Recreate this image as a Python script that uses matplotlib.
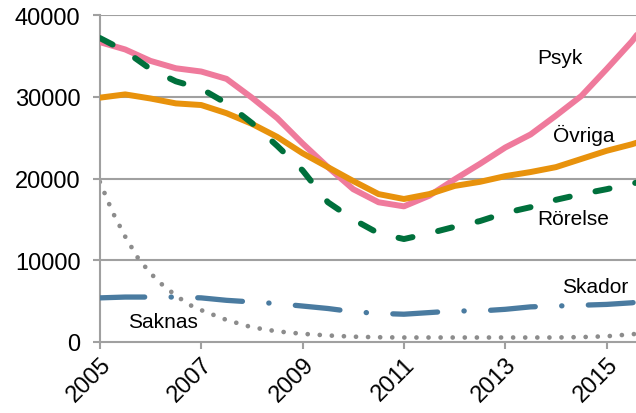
import numpy as np
import matplotlib.pyplot as plt

plt.rcParams['font.family'] = ['Liberation Sans', 'DejaVu Sans']

years = [2005.0, 2005.5, 2006.0, 2006.5, 2007.0, 2007.5, 2008.0, 2008.5, 2009.0, 2009.5,
         2010.0, 2010.5, 2011.0, 2011.5, 2012.0, 2012.5, 2013.0, 2013.5, 2014.0, 2014.5,
         2015.0, 2015.5, 2015.6]

psyk = [36700, 35800, 34400, 33500, 33100, 32200, 29900, 27400, 24300, 21400,
        18700, 17100, 16600, 17900, 19900, 21800, 23800, 25400, 27700, 30100,
        33400, 36800, 37600]
ovriga = [29900, 30300, 29800, 29200, 29000, 28000, 26700, 25100, 23100, 21400,
          19700, 18100, 17500, 18100, 19100, 19600, 20300, 20800, 21400, 22400,
          23400, 24200, 24400]
rorelse = [37200, 35600, 33400, 31900, 31000, 29200, 26800, 24000, 21000, 17100,
           15000, 13300, 12600, 13300, 14100, 14800, 15800, 16500, 17400, 18100,
           18700, 19400, 19500]
skador = [5400, 5500, 5500, 5500, 5400, 5100, 4900, 4700, 4400, 4100,
          3700, 3500, 3400, 3600, 3800, 3800, 4000, 4300, 4400, 4500,
          4600, 4800, 4900]

years_saknas = [2005.0, 2005.25, 2005.5, 2005.75, 2006.0, 2006.25, 2006.5, 2006.75,
                2007.0, 2007.5, 2008.0, 2008.5, 2009.0, 2009.5, 2010.0, 2010.5,
                2011.0, 2011.5, 2012.0, 2012.5, 2013.0, 2013.5, 2014.0, 2014.5,
                2015.0, 2015.5, 2015.6]
saknas = [19600, 15900, 12900, 10300, 8400, 6900, 5700, 4600,
          3900, 2700, 1800, 1300, 1000, 800, 650, 580,
          550, 550, 550, 550, 550, 550, 550, 600,
          700, 950, 1000]

tick_years = [2005, 2007, 2009, 2011, 2013, 2015]

fig = plt.figure(figsize=(6.36, 4.14), dpi=100)
ax = fig.add_axes([0.157, 0.1715, 0.843, 0.7895])

grid_col = '#A0A0A0'
for v in [10000, 20000, 30000, 40000]:
    ax.axhline(v, color=grid_col, lw=1.5, zorder=1)

ax.plot(years, psyk, color='#EF7A9C', lw=4.3, solid_capstyle='round', zorder=3)
ax.plot(years, ovriga, color='#E8920C', lw=4.3, solid_capstyle='round', zorder=3)
l, = ax.plot(years, rorelse, color='#00703C', lw=4.3, dash_capstyle='round', zorder=4)
l.set_dashes((2.4, 4.4))
l, = ax.plot(years, skador, color='#4A7BA0', lw=3.8, dash_capstyle='round', zorder=4)
l.set_dashes((8.5, 5, 0.05, 5))
l, = ax.plot(years_saknas, saknas, color='#8C8C8C', lw=3.4, dash_capstyle='round', zorder=2)
l.set_dashes((0.01, 2.55))

ax.text(2013.64, 34200, 'Psyk', fontsize=15, va='baseline', ha='left')
ax.text(2013.95, 24600, 'Övriga', fontsize=15, va='baseline', ha='left')
ax.text(2013.64, 14400, 'Rörelse', fontsize=15, va='baseline', ha='left')
ax.text(2014.13, 6150, 'Skador', fontsize=15, va='baseline', ha='left')
ax.text(2005.55, 1830, 'Saknas', fontsize=15, va='baseline', ha='left')

ax.set_xlim(2005, 2015.58)
ax.set_ylim(0, 40000)
ax.set_yticks([0, 10000, 20000, 30000, 40000])
ax.set_xticks(tick_years)
ax.set_xticklabels([str(t) for t in tick_years], rotation=45, ha='right', va='top',
                   rotation_mode='anchor')

for s in ['top', 'right']:
    ax.spines[s].set_visible(False)
for s in ['left', 'bottom']:
    ax.spines[s].set_color(grid_col)
    ax.spines[s].set_linewidth(1.5)
ax.tick_params(axis='both', colors=grid_col, width=1.5, length=5, labelsize=17,
               labelcolor='black', direction='out')
ax.tick_params(axis='y', pad=9)
ax.tick_params(axis='x', pad=3)

fig.savefig('out.png', dpi=100)
